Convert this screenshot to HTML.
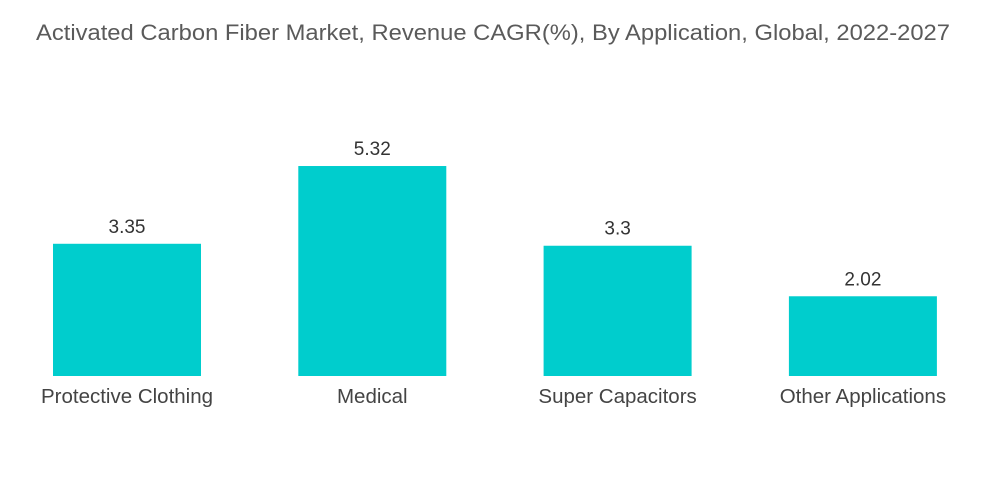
<!DOCTYPE html>
<html><head><meta charset="utf-8"><style>
body{margin:0;background:#fff;width:1000px;height:504px;overflow:hidden}
svg{display:block;font-family:"Liberation Sans",sans-serif}
</style></head><body>
<svg id="chart" width="1000" height="504">
<text x="36" y="40" font-size="22" fill="#5a5a5a" textLength="914" lengthAdjust="spacingAndGlyphs">Activated Carbon Fiber Market, Revenue CAGR(%), By Application, Global, 2022-2027</text>
</svg>
<script>
const categories=["Protective Clothing","Medical","Super Capacitors","Other Applications"];
const values=[3.35,5.32,3.3,2.02];
const valueLabels=["3.35","5.32","3.3","2.02"];
const svg=document.getElementById('chart');
const NS='http://www.w3.org/2000/svg';
const base=376, pxPerUnit=39.47, left=53, step=245.3, bw=148;
const y=v=>base-v*pxPerUnit;
const x=i=>left+i*step;
categories.forEach((c,i)=>{
  const r=document.createElementNS(NS,'rect');
  r.setAttribute('x',x(i));r.setAttribute('y',y(values[i]));
  r.setAttribute('width',bw);r.setAttribute('height',base-y(values[i]));
  r.setAttribute('fill','#00cdcd');
  
  
  svg.appendChild(r);
  const t=document.createElementNS(NS,'text');
  t.setAttribute('x',x(i)+bw/2);t.setAttribute('y',y(values[i])-11);
  t.setAttribute('text-anchor','middle');t.setAttribute('font-size','19');t.setAttribute('fill','#333');
  t.textContent=valueLabels[i];
  
  
  svg.appendChild(t);
  const l=document.createElementNS(NS,'text');
  l.setAttribute('x',x(i)+bw/2);l.setAttribute('y',403);
  l.setAttribute('text-anchor','middle');l.setAttribute('font-size','20.5');l.setAttribute('fill','#444');
  l.textContent=c;
  
  
  svg.appendChild(l);
});
</script>
</body></html>
